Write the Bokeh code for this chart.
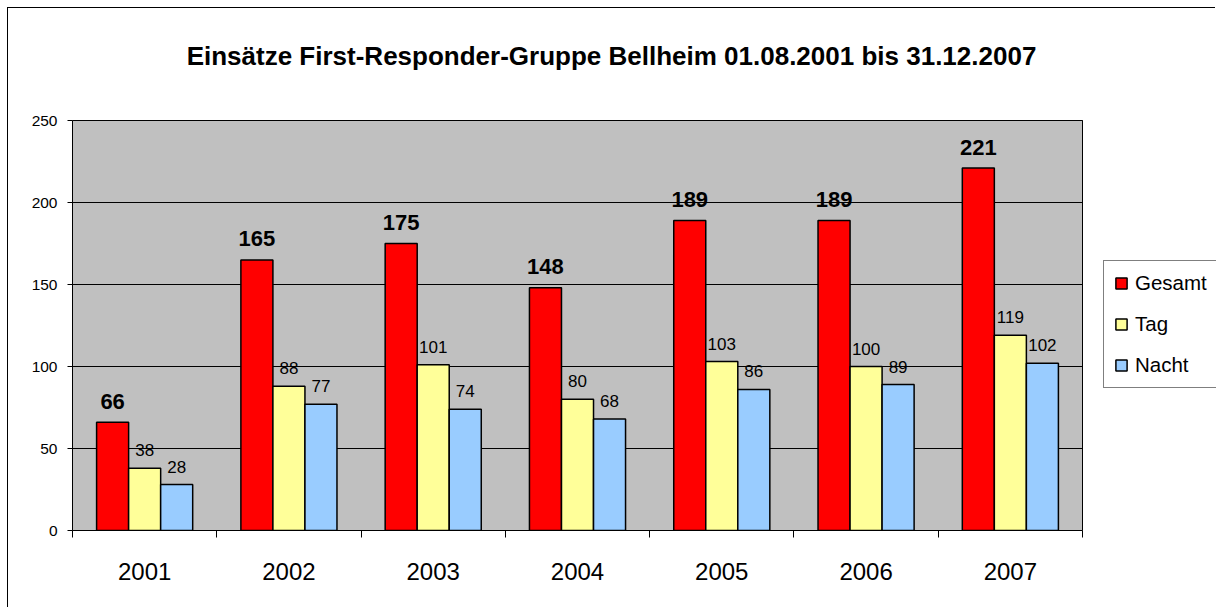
from bokeh.plotting import figure
from bokeh.models import ColumnDataSource, FixedTicker, Legend, LegendItem, Label
from bokeh.core.properties import value
from bokeh.embed import file_html
from bokeh.resources import INLINE

# ---- data ----
years = ["2001", "2002", "2003", "2004", "2005", "2006", "2007"]
gesamt = [66, 165, 175, 148, 189, 189, 221]
tag = [38, 88, 101, 80, 103, 100, 119]
nacht = [28, 77, 74, 68, 86, 89, 102]
series_names = ["Gesamt", "Tag", "Nacht"]
y_ticks = [0, 50, 100, 150, 200, 250]
chart_title = "Einsätze First-Responder-Gruppe Bellheim 01.08.2001 bis 31.12.2007"

# ---- style / layout ----
colors = ["#FF0000", "#FFFF99", "#99CCFF"]
FONT = "Liberation Sans"
BW = 0.222
N = len(years)
Y_MAX = y_ticks[-1]
# the frame covers the whole canvas right of / above the axes, so that the
# title and legend (drawn inside the frame) are not clipped
PLOT_W_PX, PLOT_H_PX = 1010, 410   # grey plotting area in pixels
FRAME_W_PX, FRAME_H_PX = 1144, 522
x_end = N * FRAME_W_PX / PLOT_W_PX
y_end = Y_MAX * FRAME_H_PX / PLOT_H_PX

p = figure(width=1208, height=600, x_range=(0, x_end), y_range=(0, y_end),
           output_backend="svg", toolbar_location=None,
           min_border_left=64, min_border_right=0, min_border_top=0, min_border_bottom=78)
p.styles = {"margin-left": "7px", "margin-top": "7px",
            "border-left": "1px solid black", "border-top": "1px solid black"}
p.title.text = ""
p.background_fill_color = "white"
p.border_fill_color = "white"
p.outline_line_color = None
p.xgrid.visible = False
p.ygrid.visible = False

# grey plot area with border
p.quad(left=[0], right=[N], bottom=[0], top=[Y_MAX],
       fill_color="#C0C0C0", line_color="black", line_width=1)
# horizontal grid lines limited to the plot area
p.segment(x0=[0] * len(y_ticks), x1=[N] * len(y_ticks), y0=y_ticks, y1=y_ticks,
          line_color="black", line_width=1)

series = [gesamt, tag, nacht]
renderers = []
for k, vals in enumerate(series):
    xs = [i + 0.5 + (k - 1) * BW for i in range(N)]
    src = ColumnDataSource(dict(x=xs, top=vals, lab=[str(v) for v in vals]))
    r = p.vbar(x="x", top="top", bottom=0, width=BW, source=src,
               fill_color=colors[k], line_color="black", line_width=1.5)
    renderers.append(r)
    if k == 0:
        p.text(x="x", y="top", text="lab", source=src, text_align="center",
               text_baseline="alphabetic", y_offset=-21,
               text_font=value(FONT), text_font_size="22px", text_font_style="bold",
               text_color="black")
    else:
        p.text(x="x", y="top", text="lab", source=src, text_align="center",
               text_baseline="alphabetic", y_offset=-18,
               text_font=value(FONT), text_font_size="17px", text_color="black")

# x axis: labels at centres, tick marks at category boundaries
xa = p.xaxis[0]
xa.bounds = (0, N)
xa.ticker = FixedTicker(ticks=[i + 0.5 for i in range(N)], minor_ticks=list(range(N + 1)))
xa.major_label_overrides = {i + 0.5: y for i, y in enumerate(years)}
xa.major_tick_out = 0
xa.major_tick_in = 0
xa.minor_tick_out = 7
xa.minor_tick_in = 0
xa.minor_tick_line_color = "black"
xa.axis_line_color = "black"
xa.major_label_standoff = 25
xa.major_label_text_font = FONT
xa.major_label_text_font_size = "24px"
xa.major_label_text_color = "black"

ya = p.yaxis[0]
ya.bounds = (0, Y_MAX)
ya.ticker = FixedTicker(ticks=y_ticks)
ya.major_tick_out = 5
ya.major_tick_in = 0
ya.minor_tick_out = 0
ya.minor_tick_in = 0
ya.major_tick_line_color = "black"
ya.axis_line_color = "black"
ya.major_label_standoff = 10
ya.major_label_text_font = FONT
ya.major_label_text_font_size = "15.5px"
ya.major_label_text_color = "black"

title = Label(x=539, y=475, x_units="screen", y_units="screen", text=chart_title,
              text_align="center", text_baseline="alphabetic",
              text_font=FONT, text_font_size="26px", text_font_style="bold",
              text_color="black")
p.add_layout(title)

legend = Legend(items=[LegendItem(label=n, renderers=[r]) for n, r in zip(series_names, renderers)],
                location=(1031, 142), orientation="vertical",
                label_text_font=FONT, label_text_font_size="20.5px", label_text_color="black",
                glyph_width=14, glyph_height=14, label_height=24, label_standoff=7,
                spacing=17, padding=10, margin=0,
                border_line_color="black", border_line_width=1,
                background_fill_color="white", background_fill_alpha=1)
p.add_layout(legend)

open("out.html", "w").write(file_html(p, INLINE))
